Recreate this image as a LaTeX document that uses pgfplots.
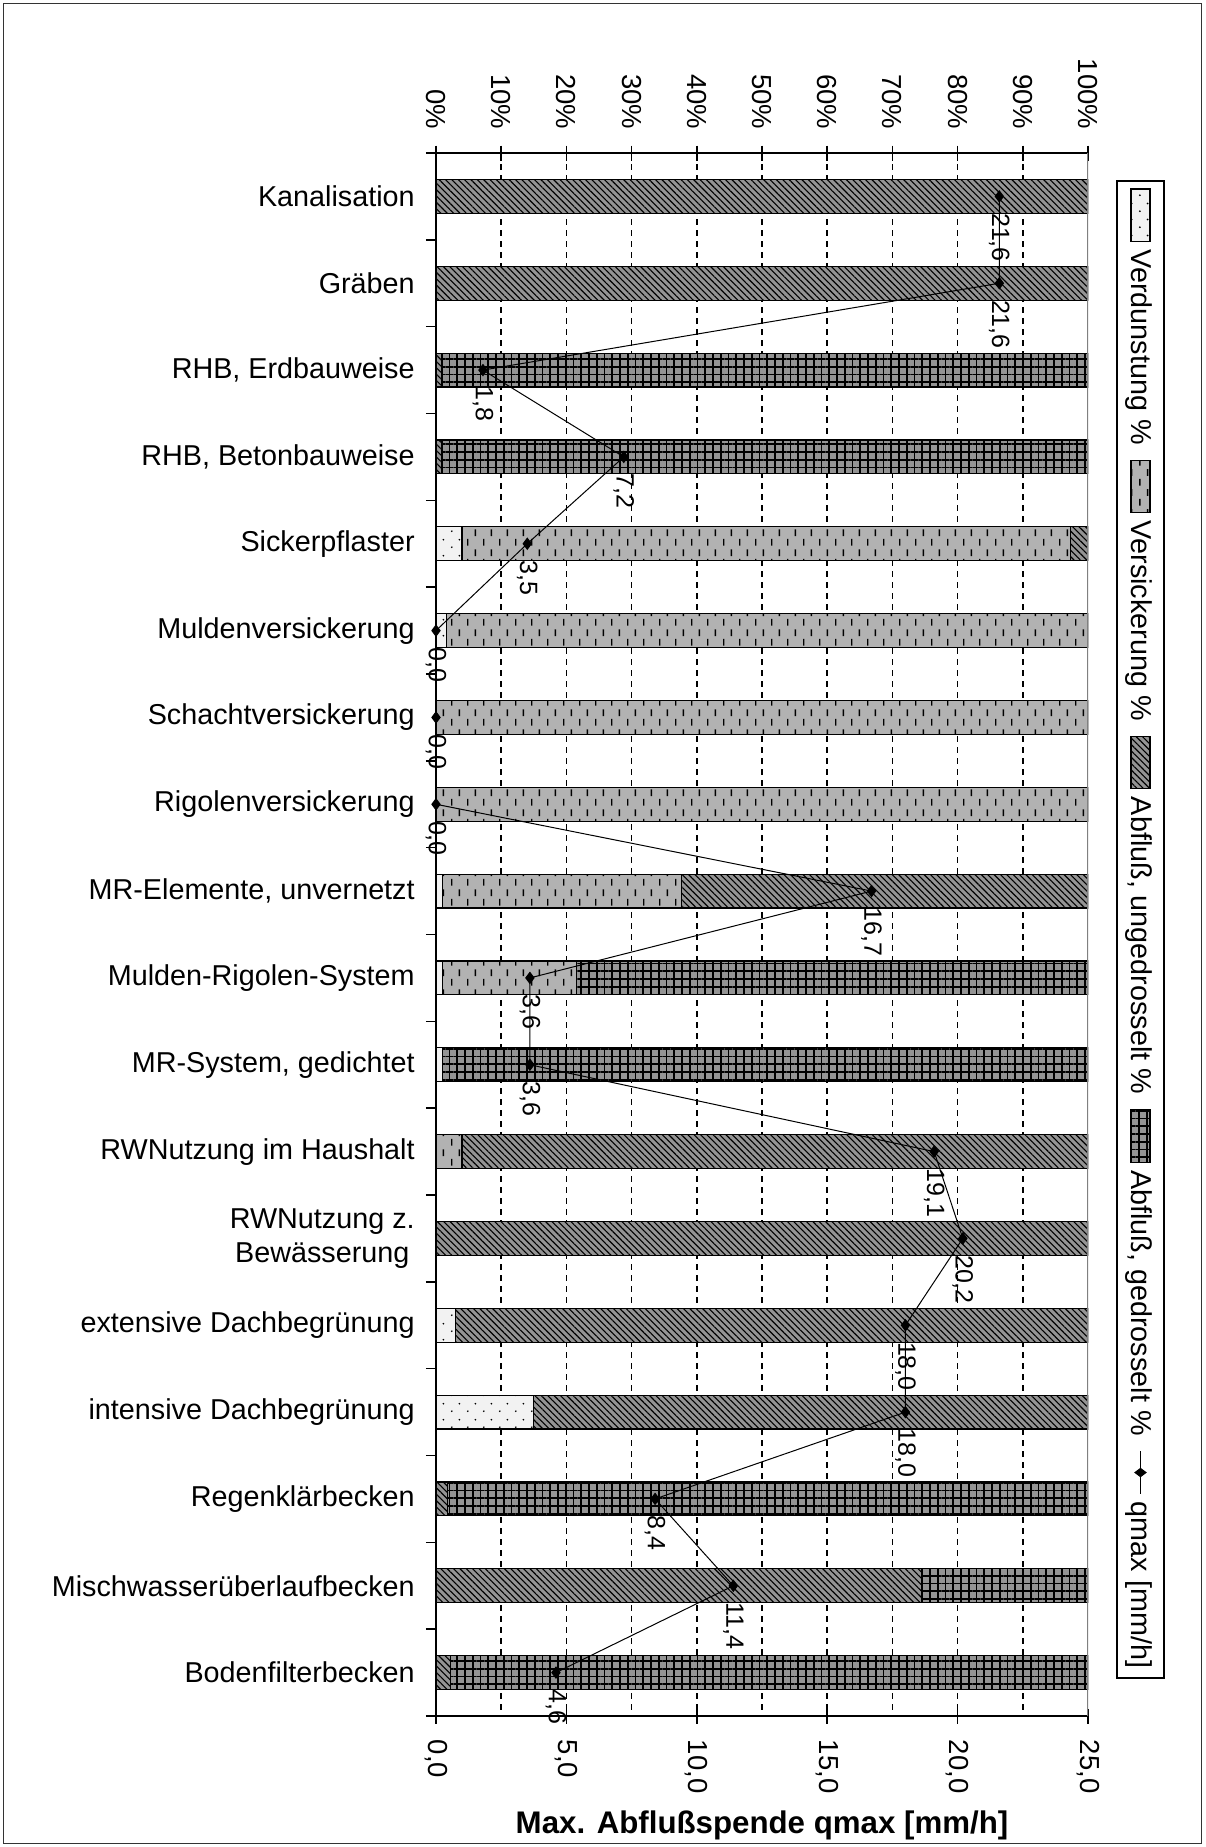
\documentclass[border=0pt]{standalone}
\usepackage{fontspec}
\setmainfont{Liberation Sans}
\usepackage{pgfplots}
\pgfplotsset{compat=1.18}
\usepackage{pgfplotstable}
\usetikzlibrary{patterns,patterns.meta}

\pgfdeclarepatternformonly{vdashes}{\pgfpoint{0pt}{0pt}}{\pgfpoint{6.4pt}{8pt}}{\pgfpoint{6.4pt}{8pt}}{%
  \pgfsetlinewidth{0.6pt}%
  \pgfpathmoveto{\pgfpoint{1.6pt}{0.6pt}}\pgfpathlineto{\pgfpoint{1.6pt}{3.4pt}}%
  \pgfpathmoveto{\pgfpoint{4.8pt}{4.6pt}}\pgfpathlineto{\pgfpoint{4.8pt}{7.4pt}}%
  \pgfusepath{stroke}}
\pgfdeclarepatternformonly{sdots}{\pgfpoint{0pt}{0pt}}{\pgfpoint{6.4pt}{6.4pt}}{\pgfpoint{6.4pt}{6.4pt}}{%
  \pgfpathcircle{\pgfpoint{1.6pt}{1.6pt}}{0.4pt}%
  \pgfpathcircle{\pgfpoint{4.8pt}{4.8pt}}{0.4pt}%
  \pgfusepath{fill}}

\tikzset{
 pverd/.style={draw=black, line width=0.5pt, fill=black!5, postaction={pattern=sdots}},
 pvers/.style={draw=black, line width=0.5pt, fill=black!30, postaction={pattern=vdashes}},
 pung/.style={draw=black, line width=0.5pt, fill=black!42, postaction={pattern={Lines[angle=-45,distance=1.8pt,line width=0.45pt]}}},
 pged/.style={draw=black, line width=0.5pt, fill=black!42, postaction={pattern={Hatch[distance=3.1pt,line width=0.7pt]}}},
}
\newcommand\labsz{\fontsize{11.5}{13.5}\selectfont}
\newcommand\ticksz{\fontsize{11}{13}\selectfont}
\newcommand\datsz{\fontsize{10}{12}\selectfont}
\pgfkeys{/pgf/number format/assume math mode=true}
\pgfplotsset{
 myleg/.style={legend style={draw=none, fill=none, font=\labsz, inner sep=0pt, nodes={inner sep=1pt},
   /tikz/every odd column/.append style={column sep=2pt},
   /tikz/every even column/.append style={column sep=5pt}},
   legend columns=-1, legend cell align=left},
}

\pgfplotstableread{
idx verd vers ung ged q
0 0 0 100 0 21.6
1 0 0 100 0 21.6
2 0 0 0.8 99.2 1.8
3 0 0 0.8 99.2 7.2
4 4 93.3 2.7 0 3.5
5 1.6 98.4 0 0 0.0
6 0 100 0 0 0.0
7 0 100 0 0 0.0
8 1 36.6 62.4 0 16.7
9 1 20.5 0 78.5 3.6
10 1 0 0 99 3.6
11 0 4 96 0 19.1
12 0 0 100 0 20.2
13 3 0 97 0 18.0
14 15 0 85 0 18.0
15 0 0 1.8 98.2 8.4
16 0 0 74.5 25.5 11.4
17 0 0 2.2 97.8 4.6
}\datatab

\begin{document}
\begin{tikzpicture}
\useasboundingbox (0,0) rectangle (482pt,738.8pt);
\draw[black!80, line width=0.5pt] (1.4pt,1.4pt) rectangle (480.6pt,737.4pt);

\begin{axis}[
 at={(174.4pt,52.4pt)}, anchor=south west, scale only axis, width=260.8pt, height=625.2pt,
 xbar stacked, bar width=0.39,
 xmin=0, xmax=100, ymin=-0.5, ymax=17.5, y dir=reverse, enlargelimits=false,
 axis x line=top, axis y line=none, axis line style={-, line width=0.7pt},
 xtick={0,10,...,100}, ytick=\empty,
 xticklabel={\pgfmathprintnumber[fixed,precision=0]{\tick}\%},
 xticklabel style={font=\ticksz, yshift=3pt, rotate=-90, anchor=east},
 tick align=center, major tick length=6pt, tick style={black, line width=0.6pt},
 extra x ticks={10,20,...,90}, extra x tick labels={}, extra x tick style={grid=major, major tick length=0pt},
 major grid style={black, line width=0.7pt, dash pattern=on 2.4pt off 2pt},
]
\addplot[pverd] table[x=verd,y=idx]{\datatab};
\addplot[pvers] table[x=vers,y=idx]{\datatab};
\addplot[pung] table[x=ung,y=idx]{\datatab};
\addplot[pged] table[x=ged,y=idx]{\datatab};
\end{axis}

\begin{axis}[
 at={(174.4pt,52.4pt)}, anchor=south west, scale only axis, width=260.8pt, height=625.2pt,
 xmin=0, xmax=25, ymin=-0.5, ymax=17.5, y dir=reverse, enlargelimits=false,
 axis x line=bottom, axis y line=none, axis line style={-, line width=0.7pt},
 xtick={0,5,...,25}, ytick=\empty,
 xticklabel={\pgfmathprintnumber[fixed,fixed zerofill,precision=1,use comma]{\tick}},
 xticklabel style={font=\ticksz, yshift=-3pt, rotate=-90, anchor=west},
 tick align=center, major tick length=6pt, tick style={black, line width=0.6pt},
 xlabel={Max. Abflußspende qmax [mm/h]},
 xlabel style={font=\bfseries\fontsize{12.5}{14}\selectfont},
 legend to name=leg2, myleg,
]
\addplot[black, line width=0.4pt, mark=diamond*, mark size=2.2pt, point meta=x,
  nodes near coords={\pgfmathprintnumber[fixed,fixed zerofill,precision=1,use comma]{\pgfplotspointmeta}},
  every node near coord/.append style={font=\datsz, rotate=-90, anchor=west, inner sep=6.5pt}]
  table[x=q,y=idx]{\datatab};
\addlegendentry{qmax [mm/h]}
\end{axis}

\begin{axis}[
 at={(174.4pt,52.4pt)}, anchor=south west, scale only axis, width=260.8pt, height=625.2pt,
 xmin=0, xmax=1, ymin=-0.5, ymax=17.5, y dir=reverse, enlargelimits=false,
 axis x line=none, axis y line=left, axis line style={-, line width=0.7pt},
 ytick={0,...,17},
 yticklabels={Kanalisation, Gräben, {RHB, Erdbauweise}, {RHB, Betonbauweise}, Sickerpflaster, Muldenversickerung, Schachtversickerung, Rigolenversickerung, {MR-Elemente, unvernetzt}, Mulden-Rigolen-System, {MR-System, gedichtet}, RWNutzung im Haushalt, {RWNutzung z.\\Bewässerung}, extensive Dachbegrünung, intensive Dachbegrünung, Regenklärbecken, Mischwasserüberlaufbecken, Bodenfilterbecken},
 minor ytick={-0.5,0.5,...,17.5},
 tick align=outside, major tick length=0pt, minor tick length=4pt,
 tick style={black, line width=0.6pt},
 yticklabel style={font=\labsz, align=center, xshift=-5pt},
 legend to name=leg, myleg,
 legend image code/.code={\draw[#1] (0pt,-3.8pt) rectangle (21pt,3.8pt);},
]
\addlegendimage{pverd}
\addlegendentry{Verdunstung \%}
\addlegendimage{pvers}
\addlegendentry{Versickerung \%}
\addlegendimage{pung}
\addlegendentry{Abfluß, ungedrosselt \%}
\addlegendimage{pged}
\addlegendentry{Abfluß, gedrosselt \%}
\draw[black!50, line width=0.5pt] (rel axis cs:1,0) -- (rel axis cs:1,1);
\end{axis}

\node[rotate=-90, draw=black, line width=0.7pt, fill=white, inner xsep=3pt, inner ysep=3.5pt] at (456.2pt,367pt)
  {\pgfplotslegendfromname{leg}\hspace{5pt}\pgfplotslegendfromname{leg2}\hspace{18pt}};
\end{tikzpicture}
\end{document}
